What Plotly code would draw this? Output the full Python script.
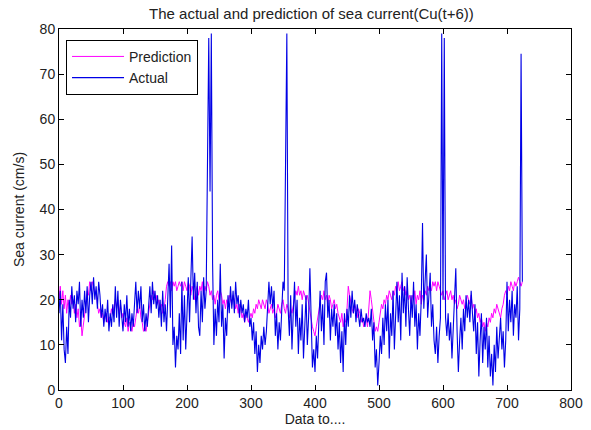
import plotly.graph_objects as go

# Actual sea current, sampled every 2nd data index (0, 2, 4, ...)
actual = [
    17, 22, 11, 19, 9,   6, 14, 8, 20, 16,   23, 18, 21, 15, 22,   19, 24, 14, 20, 16,
    22, 17, 23, 15, 21,  24, 19, 25, 20, 23,  18, 24, 21, 16, 19,  14, 18, 15, 20, 13,
    17, 14, 19, 15, 23,  16, 22, 14, 20, 17,  13, 19, 15, 21, 14,  18, 13, 17, 14, 19,
    24, 17, 22, 18, 23,  15, 19, 13, 17, 14,  20, 23, 17, 24, 19,  22, 18, 21, 16, 20,
    14, 22, 15, 19, 13,  20, 28, 16, 32, 10,  14, 5, 12, 9, 17,    8, 24, 11, 21, 9,
    19, 25, 15, 28, 34,  20, 26, 17, 24, 14,  12, 22, 15, 25, 18,  22, 49, 78, 44, 79,
    28, 10, 18, 12, 20,  15, 28, 14, 19, 7,   16, 12, 21, 17, 23,  18, 22, 17, 24, 19,
    21, 16, 20, 17, 19,  15, 18, 16, 20, 14,  16, 11, 15, 8, 13,   4, 10, 6, 12, 9,
    14, 10, 13, 18, 24,  19, 23, 18, 22, 12,  17, 9, 15, 11, 19,   24, 22, 53, 79, 18,
    12, 21, 9, 17, 24,   14, 20, 8, 16, 11,   19, 7, 15, 21, 10,   16, 27, 12, 5, 9,
    4, 12, 7, 15, 22,    13, 19, 10, 24, 26,  16, 20, 11, 18, 14,  19, 12, 17, 9, 15,
    6, 13, 4, 17, 10,    18, 14, 21, 16, 22,  17, 20, 15, 19, 16,  14, 18, 15, 16, 14,
    17, 15, 16, 14, 18,  11, 15, 5, 9, 1,     6, 12, 8, 16, 10,    19, 13, 20, 7, 17,
    12, 22, 9, 18, 24,   15, 21, 11, 26, 17,  23, 14, 25, 18, 12,  21, 16, 24, 14, 19,
    9, 17, 12, 20, 37,   18, 24, 30, 16, 22,  26, 14, 19, 11, 8,   14, 6, 12, 16, 79,
    20, 78, 16, 12, 17,  11, 15, 7, 14, 18,   27, 13, 4, 11, 16,   9, 18, 13, 21, 16,
    20, 15, 22, 17, 13,  19, 8, 15, 3, 11,    17, 6, 14, 9, 16,    5, 12, 3, 8, 1,
    10, 4, 14, 7, 12,    16, 9, 13, 5, 11,    24, 13, 20, 15, 22,  12, 19, 16, 23, 11,
    18, 74.5, 24,
]

# Predicted sea current, same sampling
prediction = [
    20, 23, 19, 22, 18,  21, 17, 20, 18, 21,  19, 20, 17, 19, 16,  18, 14, 16, 12, 14,
    17, 19, 22, 21, 24,  22, 24, 23, 21, 22,  19, 17, 18, 16, 17,  15, 16, 17, 15, 16,
    16, 18, 17, 19, 20,  18, 20, 17, 19, 16,  17, 15, 14, 16, 13,  15, 14, 13, 15, 14,
    16, 18, 17, 19, 16,  15, 13, 14, 13, 15,  17, 19, 21, 20, 22,  20, 21, 19, 20, 18,
    19, 17, 18, 20, 23,  24, 23, 24, 22, 24,  23, 24, 22, 23, 24,  23, 24, 22, 24, 23,
    22, 24, 23, 21, 23,  22, 20, 22, 23, 21,  23, 22, 24, 21, 23,  22, 24, 23, 21, 22,
    20, 21, 19, 21, 22,  20, 22, 21, 19, 20,  18, 20, 19, 21, 20,  19, 21, 20, 18, 19,
    17, 19, 18, 16, 17,  15, 17, 16, 15, 16,  17, 16, 18, 17, 19,  18, 20, 19, 18, 20,
    19, 18, 20, 19, 17,  18, 19, 17, 18, 16,  17, 19, 18, 17, 19,  20, 18, 17, 19, 18,
    16, 18, 17, 19, 21,  22, 21, 23, 21, 22,  20, 22, 21, 20, 21,  19, 18, 16, 14, 13,
    12, 14, 16, 18, 19,  21, 20, 22, 20, 21,  19, 21, 20, 18, 19,  20, 18, 19, 17, 16,
    15, 17, 14, 16, 15,  18, 23, 21, 19, 18,  17, 19, 18, 16, 18,  17, 15, 16, 14, 15,
    16, 14, 18, 22, 20,  18, 15, 13, 14, 13,  15, 17, 19, 18, 20,  19, 21, 20, 22, 21,
    20, 22, 21, 23, 22,  24, 22, 23, 24, 22,  23, 21, 22, 20, 21,  19, 21, 20, 22, 19,
    21, 20, 22, 19, 21,  20, 22, 21, 23, 22,  23, 22, 24, 23, 24,  22, 24, 23, 22, 21,
    22, 20, 21, 22, 20,  21, 22, 20, 21, 19,  20, 18, 19, 21, 20,  19, 20, 18, 19, 21,
    20, 19, 21, 18, 19,  17, 18, 16, 17, 15,  16, 14, 15, 13, 15,  14, 16, 15, 17, 16,
    18, 17, 19, 18, 17,  16, 18, 19, 21, 22,  21, 23, 22, 24, 23,  22, 24, 23, 24, 25,
    24, 23, 24,
]

x_actual = list(range(0, 2 * len(actual), 2))
x_pred = list(range(0, 2 * len(prediction), 2))

x_ticks = [0, 100, 200, 300, 400, 500, 600, 700, 800]
y_ticks = [0, 10, 20, 30, 40, 50, 60, 70, 80]

FONT = "Liberation Sans, Arial, Helvetica, sans-serif"

fig = go.Figure()
fig.add_trace(go.Scatter(x=x_pred, y=prediction, mode="lines", name="Prediction",
                         line=dict(color="#ff00ff", width=1)))
fig.add_trace(go.Scatter(x=x_actual, y=actual, mode="lines", name="Actual",
                         line=dict(color="#0000e6", width=1.1)))

axis_common = dict(showline=True, linecolor="black", linewidth=1, mirror="ticks",
                   ticks="inside", ticklen=5, tickcolor="black", showgrid=False,
                   zeroline=False, automargin=False,
                   tickfont=dict(family=FONT, size=14, color="#222222"))

fig.update_layout(
    width=591, height=430,
    margin=dict(l=59, r=20, t=29, b=40),
    paper_bgcolor="white", plot_bgcolor="white",
    font=dict(family=FONT, size=14, color="#222222"),
    title=dict(text="The actual and prediction of sea current(Cu(t+6))",
               x=0.527, xanchor="center", y=0.969, yanchor="middle",
               font=dict(family=FONT, size=15, color="#222222")),
    xaxis=dict(range=[0, 800], tickvals=x_ticks,
               title=dict(text="Data to....", standoff=1,
                          font=dict(family=FONT, size=14)), **axis_common),
    yaxis=dict(range=[0, 80], tickvals=y_ticks,
               title=dict(text="Sea current (cm/s)", standoff=11,
                          font=dict(family=FONT, size=14)), **axis_common),
    legend=dict(x=0.0137, y=0.97, xanchor="left", yanchor="top",
                bgcolor="white", bordercolor="black", borderwidth=1,
                font=dict(family=FONT, size=14, color="#222222"),
                itemwidth=52, tracegroupgap=0),
    showlegend=True,
)

# Remove the page's default 8px body margin so the figure fills the window.
fig.write_html("out.html", config={"displayModeBar": False},
               post_script="document.body.style.margin='0px';")
